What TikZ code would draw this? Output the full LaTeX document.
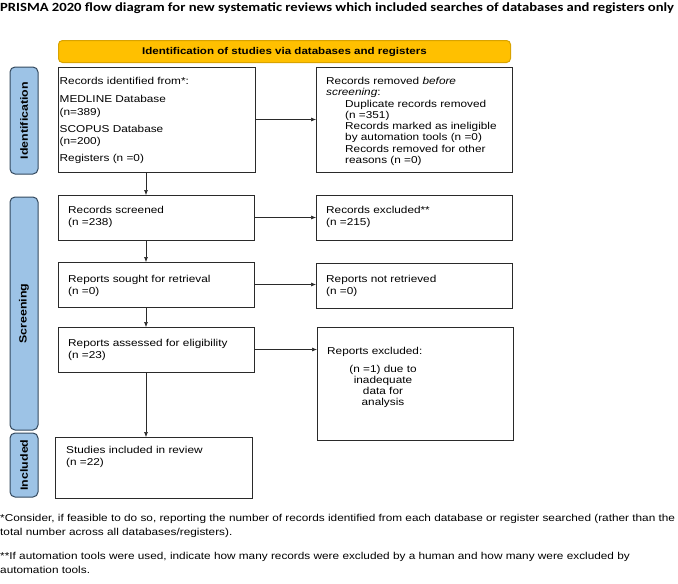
\documentclass[tikz,border=0pt]{standalone}
\usepackage{fontspec}
\setmainfont{Liberation Sans}[FakeStretch=1.18]
\newfontfamily\titlefont{Carlito}[FakeStretch=1.17]
\usetikzlibrary{arrows.meta}
\definecolor{ybar}{HTML}{FFC000}
\definecolor{yborder}{HTML}{D9A300}
\definecolor{bbar}{HTML}{9DC3E6}
\definecolor{bborder}{HTML}{34495E}
\definecolor{lc}{HTML}{2A2A2A}
\begin{document}
\begin{tikzpicture}[x=1pt,y=-1pt,
  box/.style={draw=lc, line width=0.9pt, inner sep=0pt, outer sep=0pt, anchor=north west},
  sidebar/.style={draw=bborder, fill=bbar, line width=1pt, rounded corners=5pt, inner sep=0pt, outer sep=0pt, anchor=north west, minimum width=28pt},
  sidelabel/.style={rotate=90, font=\bfseries\fontsize{10.5}{12}\selectfont, inner sep=0pt},
  txt/.style={anchor=north west, inner sep=0pt, align=left, font=\fontsize{10}{11.5}\selectfont},
  arr/.style={draw=lc, line width=0.6pt, -{Latex[length=5pt,width=4pt]}},
  foot/.style={anchor=west, inner sep=0pt, font=\fontsize{10}{12}\selectfont}]
\useasboundingbox (0,0) rectangle (678,584);

% title
\node[anchor=west, inner sep=0pt, font=\titlefont\bfseries\fontsize{12.5}{14}\selectfont] (title) at (0,8)
  {PRISMA 2020 flow diagram for new systematic reviews which included searches of databases and registers only};

% header bar
\node[draw=yborder, fill=ybar, line width=1pt, rounded corners=4pt, anchor=north west, minimum width=452pt, minimum height=22pt, inner sep=0pt,
  font=\bfseries\fontsize{9.8}{11}\selectfont] (head) at (58,40) {Identification of studies via databases and registers};

% side bars
\node[sidebar, minimum height=107pt] (sbid) at (10,67) {};
\node[sidelabel] (lid) at (sbid.center) {Identification};
\node[sidebar, minimum height=233pt] (sbsc) at (10,197) {};
\node[sidelabel] (lsc) at (sbsc.center) {Screening};
\node[sidebar, minimum height=64pt] (sbin) at (10,433) {};
\node[sidelabel] (lin) at (sbin.center) {Included};

% boxes
\node[box, minimum width=197pt, minimum height=105pt] (id) at (58,67) {};
\node[box, minimum width=196pt, minimum height=105pt] (rem) at (316,67) {};
\node[box, minimum width=196pt, minimum height=45pt] (scr) at (58,195) {};
\node[box, minimum width=196pt, minimum height=45pt] (exc) at (316,195) {};
\node[box, minimum width=196pt, minimum height=45pt] (sou) at (58,262) {};
\node[box, minimum width=196pt, minimum height=45pt] (nre) at (316,263) {};
\node[box, minimum width=196pt, minimum height=45pt] (ass) at (58,327) {};
\node[box, minimum width=196pt, minimum height=113pt] (rex) at (317,327) {};
\node[box, minimum width=197pt, minimum height=61pt] (inc) at (55,437) {};

% texts
\node[txt, font=\fontsize{10}{12.3}\selectfont] (tid) at (59.5,77) {Records identified from*:\\[6pt]
MEDLINE Database\\(n=389)\\[5pt]
SCOPUS Database\\(n=200)\\[5pt]
Registers (n =0)};
\node[txt, font=\fontsize{10}{11.3}\selectfont] (trem) at (326,77) {Records removed \emph{before}\\
\emph{screening}:\\
\hspace*{19pt}Duplicate records removed\\
\hspace*{19pt}(n =351)\\
\hspace*{19pt}Records marked as ineligible\\
\hspace*{19pt}by automation tools (n =0)\\
\hspace*{19pt}Records removed for other\\
\hspace*{19pt}reasons (n =0)};
\node[txt] (tscr) at (68,206.5) {Records screened\\(n =238)};
\node[txt] (texc) at (326,206.5) {Records excluded**\\(n =215)};
\node[txt] (tsou) at (68,275.5) {Reports sought for retrieval\\(n =0)};
\node[txt] (tnre) at (326,275.5) {Reports not retrieved\\(n =0)};
\node[txt] (tass) at (68,339.5) {Reports assessed for eligibility\\(n =23)};
\node[txt] (trex) at (327,347.5) {Reports excluded:};
\node[inner sep=0pt, anchor=north, align=center, font=\fontsize{10}{11}\selectfont] (trex2) at (383,365.5)
  {(n =1) due to\\inadequate\\data for\\analysis};
\node[txt] (tinc) at (66,446.5) {Studies included in review\\(n =22)};

% arrows
\coordinate (col) at (146,0);
\draw[arr] (id.south -| col) -- (scr.north -| col);
\draw[arr] (scr.south -| col) -- (sou.north -| col);
\draw[arr] (sou.south -| col) -- (ass.north -| col);
\draw[arr] (ass.south -| col) -- (inc.north -| col);
\draw[arr] (id.east) -- (rem.west);
\draw[arr] (scr.east) -- (scr.east -| exc.west);
\draw[arr] (sou.east) -- (sou.east -| nre.west);
\draw[arr] (ass.east) -- (ass.east -| rex.west);

% footnotes
\node[foot] (f1) at (0,519) {*Consider, if feasible to do so, reporting the number of records identified from each database or register searched (rather than the};
\node[foot] (f2) at (0,533) {total number across all databases/registers).};
\node[foot] (f3) at (0,557) {**If automation tools were used, indicate how many records were excluded by a human and how many were excluded by};
\node[foot] (f4) at (0,570) {automation tools.};
\end{tikzpicture}
\end{document}
